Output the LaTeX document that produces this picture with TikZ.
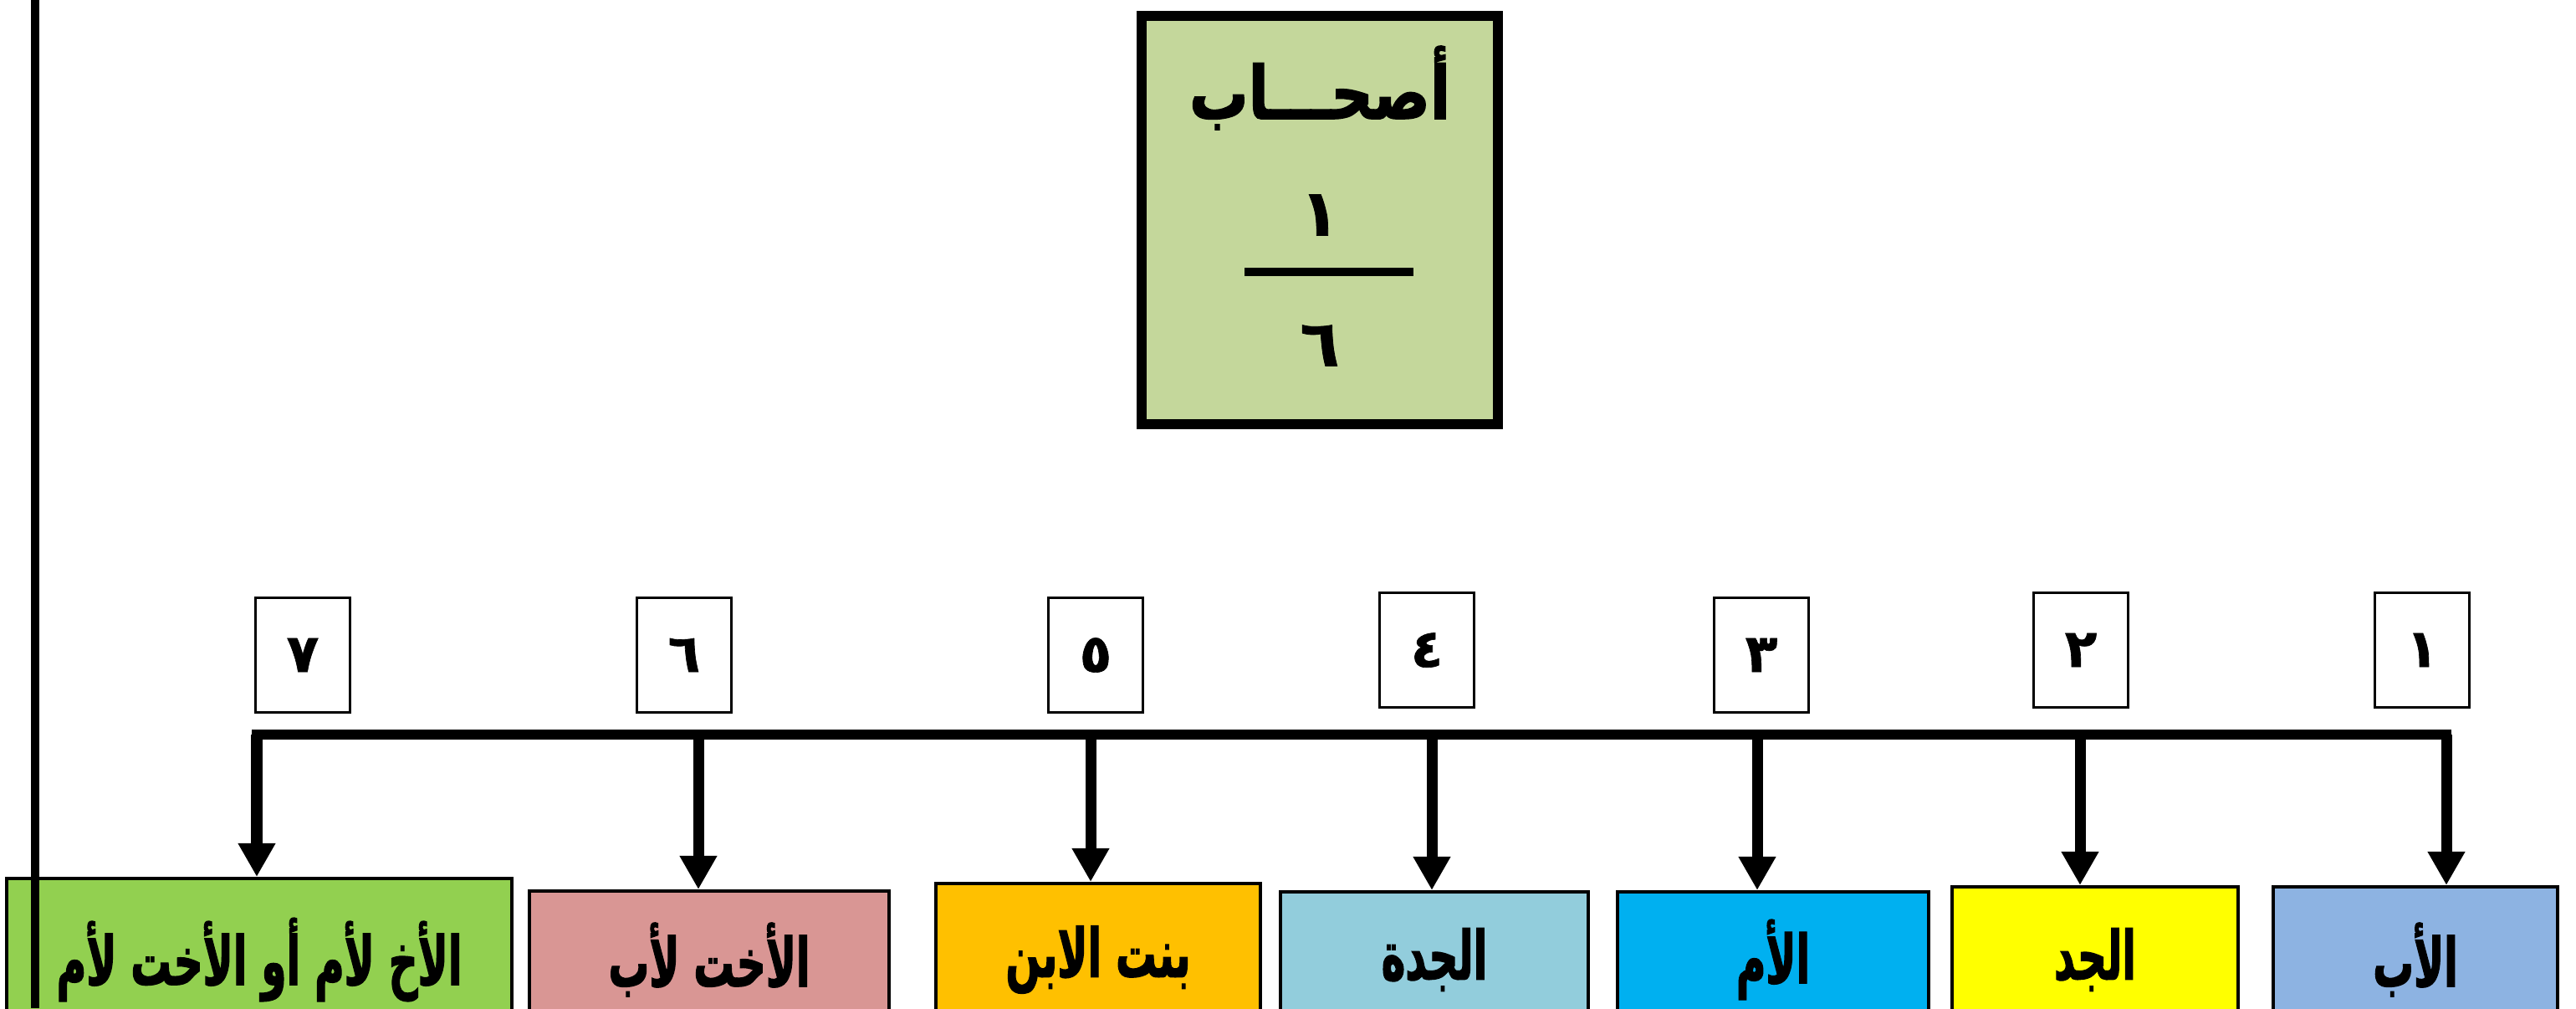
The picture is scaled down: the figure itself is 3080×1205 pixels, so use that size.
\documentclass[tikz,border=0pt]{standalone}
\usepackage{fontspec}
\newfontfamily\arabicfont[Script=Arabic, FakeStretch=0.6, BoldFeatures={FakeBold=1.5}]{DejaVu Sans}
\newfontfamily\titlefont[Script=Arabic, FakeStretch=0.8, BoldFeatures={FakeBold=1.5}]{DejaVu Sans}
\newfontfamily\digitfont[Script=Arabic, BoldFeatures={FakeBold=1}]{DejaVu Sans}
\TeXXeTstate=1
\usetikzlibrary{arrows.meta,positioning}

\definecolor{titlegreen}{HTML}{C4D79B}
\definecolor{brothergreen}{HTML}{92D050}
\definecolor{sisterpink}{HTML}{D99694}
\definecolor{daughterorange}{HTML}{FFC000}
\definecolor{grandmablue}{HTML}{92CDDC}
\definecolor{motherblue}{HTML}{00B0F0}
\definecolor{grandpayellow}{HTML}{FFFF00}
\definecolor{fatherblue}{HTML}{8DB3E2}

\newcommand{\ar}[1]{\arabicfont\beginR #1\endR}
\newcommand{\dg}[1]{\digitfont\beginR #1\endR}

\tikzset{
	title/.style={draw, line width=3.4pt, fill=titlegreen, minimum width=4.25cm, minimum height=4.88cm},
	num/.style={draw, line width=0.9pt, fill=white, minimum width=1.13cm, minimum height=1.37cm, inner sep=0pt, font=\fontsize{18}{20}\selectfont\bfseries},
	heir/.style={draw, line width=1.1pt, anchor=north, inner sep=0pt, font=\fontsize{23}{26}\selectfont\bfseries},
	bus/.style={line width=3.4pt, line cap=rect},
	down/.style={line width=3.7pt, -{Triangle[length=0.4cm,width=0.42cm]}},
}

\begin{document}
\begin{tikzpicture}[x=0.01cm, y=-0.01cm]
	\path[use as bounding box, fill=white] (0,0) rectangle (3080,1205);

	% the share
	\node[title] 			(share) at (1578,263) 	{};
	\node[font=\fontsize{25}{28}\selectfont\bfseries] (who) at (1578,105) {\titlefont\beginR أصحـــاب\endR};
	\node[font=\fontsize{22}{24}\selectfont\bfseries] (top) at (1578,257) {\dg{١}};
	\node[font=\fontsize{22}{24}\selectfont\bfseries] (bottom) at (1578,413) {\dg{٦}};
	\draw[line width=2.9pt] (1488,325) -- (1690,325);

	% numbers
	\node[num] (n1) at (2896,777) {\dg{١}};
	\node[num] (n2) at (2488,777) {\dg{٢}};
	\node[num] (n3) at (2106,783) {\dg{٣}};
	\node[num] (n4) at (1706,777) {\dg{٤}};
	\node[num] (n5) at (1310,783) {\dg{٥}};
	\node[num] (n6) at (818,783) 	{\dg{٦}};
	\node[num] (n7) at (362,783) 	{\dg{٧}};

	% heirs
	\node[heir, fill=fatherblue, minimum width=3.39cm, minimum height=1.74cm] 		(h1) at (2888,1058) {\ar{الأب}};
	\node[heir, fill=grandpayellow, minimum width=3.41cm, minimum height=1.74cm] 	(h2) at (2505,1058) {\ar{الجد}};
	\node[heir, fill=motherblue, minimum width=3.72cm, minimum height=1.62cm] 		(h3) at (2120,1064) {\ar{الأم}};
	\node[heir, fill=grandmablue, minimum width=3.68cm, minimum height=1.62cm] 	(h4) at (1715,1064) {\ar{الجدة}};
	\node[heir, fill=daughterorange, minimum width=3.88cm, minimum height=1.82cm] 	(h5) at (1313,1054) {\ar{بنت الابن}};
	\node[heir, fill=sisterpink, minimum width=4.29cm, minimum height=1.64cm] 		(h6) at (848,1063) 	{\ar{الأخت لأب}};
	\node[heir, fill=brothergreen, minimum width=6.03cm, minimum height=1.94cm] 	(h7) at (310,1048) 	{\ar{الأخ لأم أو الأخت لأم}};

	% connectors
	\coordinate (b1) at (2925,878);
	\coordinate (b2) at (2487,878);
	\coordinate (b3) at (2101,878);
	\coordinate (b4) at (1712,878);
	\coordinate (b5) at (1304,878);
	\coordinate (b6) at (835,878);
	\coordinate (b7) at (307,878);
	\draw[bus] (b7) -- (b1);
	\draw[down] (b1) -- (b1 |- h1.north);
	\draw[down] (b2) -- (b2 |- h2.north);
	\draw[down] (b3) -- (b3 |- h3.north);
	\draw[down] (b4) -- (b4 |- h4.north);
	\draw[down] (b5) -- (b5 |- h5.north);
	\draw[down] (b6) -- (b6 |- h6.north);
	\draw[down] (b7) -- (b7 |- h7.north);

	% margin rule
	\coordinate (railtop) at (42,0);
	\coordinate (railbot) at (42,1205);
	\draw[line width=2.9pt] (railtop) -- (railbot);
\end{tikzpicture}
\end{document}
